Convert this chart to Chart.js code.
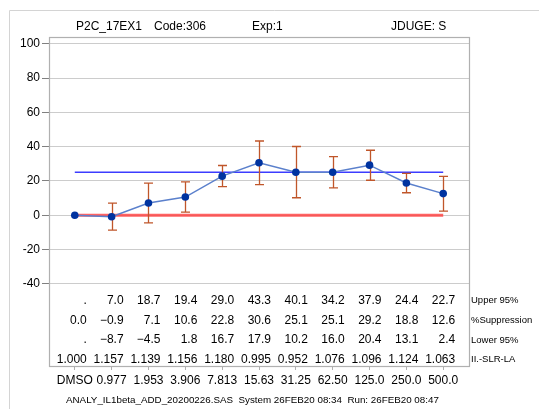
<!DOCTYPE html>
<html>
<head>
<meta charset="utf-8">
<script src="https://cdn.jsdelivr.net/npm/chart.js@4.4.1/dist/chart.umd.min.js"></script>
<style>
  html, body { margin: 0; padding: 0; background: #fff; }
  #wrap { width: 539px; height: 409px; }
</style>
</head>
<body>
<div id="wrap"><canvas id="chart" width="539" height="409"></canvas></div>
<script>
// dose labels along the bottom (DMSO = vehicle)
const doses = ['DMSO', '0.977', '1.953', '3.906', '7.813', '15.63', '31.25', '62.50', '125.0', '250.0', '500.0'];
const suppression = [0.0, -0.9, 7.1, 10.6, 22.8, 30.6, 25.1, 25.1, 29.2, 18.8, 12.6];
const upper95 = [null, 7.0, 18.7, 19.4, 29.0, 43.3, 40.1, 34.2, 37.9, 24.4, 22.7];
const lower95 = [null, -8.7, -4.5, 1.8, 16.7, 17.9, 10.2, 16.0, 20.4, 13.1, 2.4];
const ratio = [1.000, 1.157, 1.139, 1.156, 1.180, 0.995, 0.952, 1.076, 1.096, 1.124, 1.063];
const yTicks = [-40, -20, 0, 20, 40, 60, 80, 100];
const threshold = 25;
const baseline = 0;

const header = [['P2C_17EX1', 76], ['Code:306', 154], ['Exp:1', 252], ['JDUGE: S', 391]];
const rowLabels = ['Upper 95%', '%Suppression', 'Lower 95%', 'II.-SLR-LA'];
const footer = 'ANALY_IL1beta_ADD_20200226.SAS  System 26FEB20 08:34  Run: 26FEB20 08:47';

const FONT = '"Liberation Sans", Arial, sans-serif';
const ERR_COLOR = '#c0562a';

const fmt1 = v => v === null ? '.' : (v < 0 ? '\u2212' + Math.abs(v).toFixed(1) : v.toFixed(1));
const fmt3 = v => v.toFixed(3);

const decorations = {
  id: 'decorations',
  beforeDraw(chart) {
    const { ctx, width, height } = chart;
    ctx.save();
    ctx.strokeStyle = '#d4d4d4';
    ctx.lineWidth = 1;
    ctx.beginPath();
    ctx.moveTo(9.5, height);
    ctx.lineTo(9.5, 10.5);
    ctx.lineTo(width, 10.5);
    ctx.stroke();
    ctx.restore();
  },
  beforeDatasetDraw(chart, args) {
    if (args.index !== 2) return;
    const { ctx } = chart;
    const xs = chart.scales.x, ys = chart.scales.y;
    ctx.save();
    ctx.strokeStyle = ERR_COLOR;
    ctx.lineWidth = 1.3;
    upper95.forEach((u, i) => {
      const l = lower95[i];
      if (u === null || l === null) return;
      const x = Math.round(xs.getPixelForValue(i)) + 0.5;
      const yu = ys.getPixelForValue(u), yl = ys.getPixelForValue(l);
      ctx.beginPath();
      ctx.moveTo(x, yu); ctx.lineTo(x, yl);
      ctx.moveTo(x - 4.5, yu); ctx.lineTo(x + 4.5, yu);
      ctx.moveTo(x - 4.5, yl); ctx.lineTo(x + 4.5, yl);
      ctx.stroke();
    });
    ctx.restore();
  },
  afterDraw(chart) {
    const { ctx, chartArea: a } = chart;
    const xs = chart.scales.x;
    ctx.save();
    // plot frame
    ctx.strokeStyle = '#b0b0b0';
    ctx.lineWidth = 1.2;
    ctx.strokeRect(a.left + 0.5, a.top + 0.5, a.right - a.left, a.bottom - a.top);

    ctx.fillStyle = '#000';
    ctx.textBaseline = 'middle';
    // header
    ctx.font = '12px ' + FONT;
    ctx.textAlign = 'left';
    header.forEach(([t, x]) => ctx.fillText(t, x, 27));

    // table rows inside the frame
    const rows = [upper95.map(fmt1), suppression.map(fmt1), lower95.map(fmt1), ratio.map(fmt3)];
    const rowY = [a.bottom - 65.3, a.bottom - 45.3, a.bottom - 26, a.bottom - 6.7];
    ctx.textAlign = 'right';
    ctx.font = '12px ' + FONT;
    rows.forEach((row, r) => {
      row.forEach((t, i) => {
        ctx.fillText(t, xs.getPixelForValue(i) + 12, rowY[r]);
      });
    });
    ctx.textAlign = 'left';
    ctx.font = '9.5px ' + FONT;
    rowLabels.forEach((t, r) => ctx.fillText(t, a.right + 2, rowY[r]));

    // footer
    ctx.font = '9.8px ' + FONT;
    ctx.fillText(footer, 66, 400);
    ctx.restore();
  }
};

const ctx = document.getElementById('chart');
new Chart(ctx, {
  type: 'line',
  data: {
    datasets: [
      {
        label: 'baseline',
        data: [{ x: 0, y: baseline }, { x: doses.length - 1, y: baseline }],
        borderColor: 'rgba(255, 60, 60, 0.8)',
        borderWidth: 3,
        pointRadius: 0,
        order: 4,
      },
      {
        label: 'threshold',
        data: [{ x: 0, y: threshold }, { x: doses.length - 1, y: threshold }],
        borderColor: '#3c3cff',
        borderWidth: 1.5,
        pointRadius: 0,
        order: 3,
      },
      {
        label: '%Suppression',
        data: suppression.map((v, i) => ({ x: i, y: v })),
        borderColor: '#5b80cc',
        borderWidth: 1.5,
        pointBackgroundColor: '#0033a0',
        pointBorderColor: '#0033a0',
        pointRadius: 3.8,
        pointBorderWidth: 0,
        order: 1,
      },
    ],
  },
  options: {
    responsive: false,
    animation: false,
    devicePixelRatio: 1,
    layout: { padding: { top: 37, right: 70, bottom: 0, left: 0 } },
    plugins: { legend: { display: false }, tooltip: { enabled: false } },
    scales: {
      x: {
        type: 'linear',
        min: -0.7,
        max: 10.7,
        afterBuildTicks: s => { s.ticks = doses.map((_, i) => ({ value: i })); },
        afterFit: s => { s.height = 43; },
        ticks: {
          callback: v => doses[v],
          font: { family: FONT, size: 12 },
          color: '#000',
          padding: 3,
          maxRotation: 0,
          autoSkip: false,
        },
        grid: { drawOnChartArea: false, tickLength: 4, tickColor: '#b0b0b0' },
        border: { display: false },
      },
      y: {
        min: -88,
        max: 104,
        afterBuildTicks: s => { s.ticks = yTicks.map(v => ({ value: v })); },
        afterFit: s => { s.width = 49; },
        ticks: {
          font: { family: FONT, size: 12 },
          color: '#000',
          padding: 2,
        },
        grid: {
          color: '#cccccc',
          borderDash: [2, 2],
          tickBorderDash: [],
          tickColor: '#808080',
          tickLength: 7,
        },
        border: { display: false },
      },
    },
  },
  plugins: [decorations],
});
</script>
</body>
</html>
